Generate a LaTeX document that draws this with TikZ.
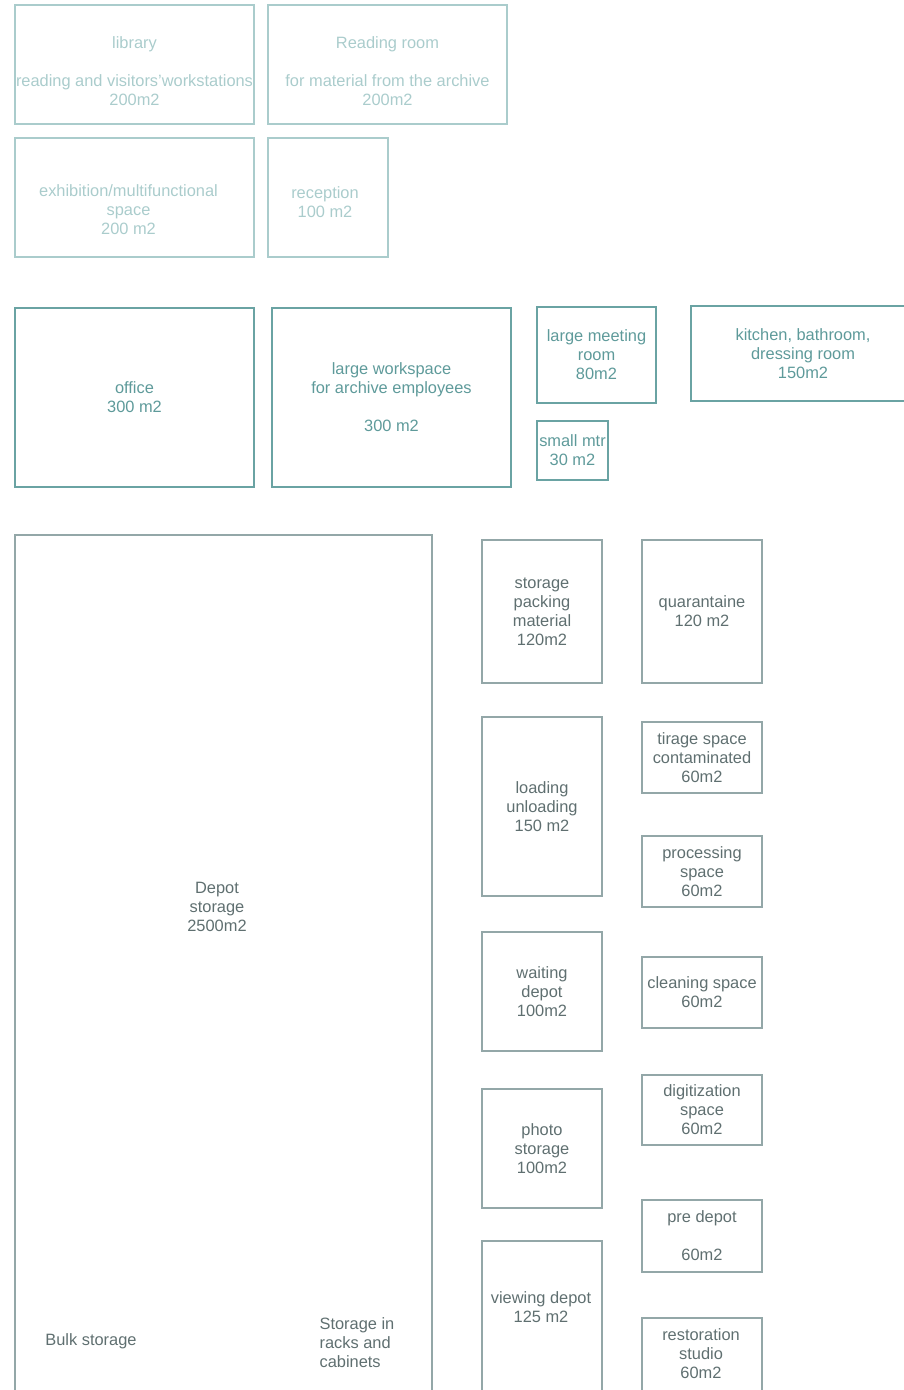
\documentclass[tikz,border=0pt]{standalone}
\usepackage{fontspec}
\setmainfont{Liberation Sans}
\usepackage{xcolor}
\usetikzlibrary{positioning}

\definecolor{publiccol}{HTML}{AACCCC}
\definecolor{staffcol}{HTML}{6AA3A3}
\definecolor{stafftext}{HTML}{5E9A9A}
\definecolor{depotcol}{HTML}{93A7A8}
\definecolor{depottext}{HTML}{5F6F70}
\newcommand\roomfont{\fontsize{16.4}{19}\selectfont}

\begin{document}
\begin{tikzpicture}[x=1pt, y=-1pt, node distance=14pt,
  room/.style={draw, line width=1.1pt, inner sep=0pt, outer sep=0pt, align=center, font=\roomfont},
  public/.style={room, draw=publiccol, text=publiccol},
  publabel/.style={align=center, inner sep=0pt, font=\roomfont, text=publiccol},
  staff/.style={room, draw=staffcol, text=stafftext},
  depot/.style={room, draw=depotcol, text=depottext},
  deplabel/.style={inner sep=0pt, font=\roomfont, text=depottext}]
\useasboundingbox (0,0) rectangle (904,1390);
\clip (0,0) rectangle (904,1390);
% Publieke ruimtes
\node[public, minimum width=239pt, minimum height=119pt,
  label={[publabel, yshift=-7pt]center:library\\[19pt]reading and visitors'workstations\\200m2}] (library) at (134.5,64.5) {};
\node[public, minimum width=239pt, minimum height=119pt, right=of library,
  label={[publabel, yshift=-7pt]center:Reading room\\[19pt]for material from the archive\\200m2}] (reading) {};
\node[public, minimum width=239pt, minimum height=119pt, below=of library,
  label={[publabel, xshift=-6pt, yshift=-12pt]center:exhibition/multifunctional\\space\\200 m2}] (exhib) {};
\node[public, minimum width=120pt, minimum height=119pt,
  label={[publabel, xshift=-3pt, yshift=-5pt]center:reception\\100 m2}] (reception) at (328,197.5) {};
% Kantoren
\node[staff, minimum width=239pt, minimum height=179pt] (office) at (134.5,397.5)
  {office\\300 m2};
\node[staff, minimum width=239pt, minimum height=179pt, right=18pt of office] (workspace)
  {large workspace\\for archive employees\\[19pt]300 m2};
\node[staff, minimum width=119pt, minimum height=96pt] (meeting) at (596.5,355)
  {large meeting\\room\\80m2};
\node[staff, minimum width=71pt, minimum height=59pt] (smallmtr) at (572.5,450.5)
  {small mtr\\30 m2};
\node[staff, minimum width=224pt, minimum height=95pt] (kitchen) at (803,353.5)
  {kitchen, bathroom,\\dressing room\\150m2};
% Depot
\node[depot, anchor=north west, minimum width=417pt, minimum height=880pt] (depot) at (15,535) {};
\node[deplabel, align=center] (depotlbl) at (217,907) {Depot\\storage\\2500m2};
\node[deplabel] (bulk) at (91,1341) {Bulk storage};
\node[deplabel, align=left] (racks) at (357,1343) {Storage in\\racks and\\cabinets};
% Werkruimtes
\node[depot, minimum width=120pt, minimum height=143pt] (packing) at (542,611.5)
  {storage\\packing\\material\\120m2};
\node[depot, minimum width=120pt, minimum height=143pt] (quarantaine) at (702,611.5)
  {quarantaine\\120 m2};
\node[depot, minimum width=120pt, minimum height=179pt] (loading) at (542,806.5)
  {loading\\unloading\\150 m2};
\node[depot, minimum width=120pt, minimum height=71pt] (tirage) at (702,757.5)
  {tirage space\\contaminated\\60m2};
\node[depot, minimum width=120pt, minimum height=71pt] (processing) at (702,871.5)
  {processing\\space\\60m2};
\node[depot, minimum width=120pt, minimum height=119pt] (waiting) at (542,991.5)
  {waiting\\depot\\100m2};
\node[depot, minimum width=120pt, minimum height=71pt] (cleaning) at (702,992.5)
  {cleaning space\\60m2};
\node[depot, minimum width=120pt, minimum height=119pt] (photo) at (542,1148.5)
  {photo\\storage\\100m2};
\node[depot, minimum width=120pt, minimum height=70pt] (digit) at (702,1110)
  {digitization\\space\\60m2};
\node[depot, minimum width=120pt, minimum height=72pt] (predepot) at (702,1236)
  {pre depot\\[19pt]60m2};
\node[depot, anchor=north west, minimum width=120pt, minimum height=170pt] (viewing) at (482,1241) {};
\node[deplabel, align=center] (viewlbl) at (541,1307.5) {viewing depot\\125 m2};
\node[depot, anchor=north west, minimum width=120pt, minimum height=80pt] (restoration) at (642,1318) {};
\node[deplabel, align=center] (restlbl) at (701,1354) {restoration\\studio\\60m2};
\end{tikzpicture}
\end{document}
